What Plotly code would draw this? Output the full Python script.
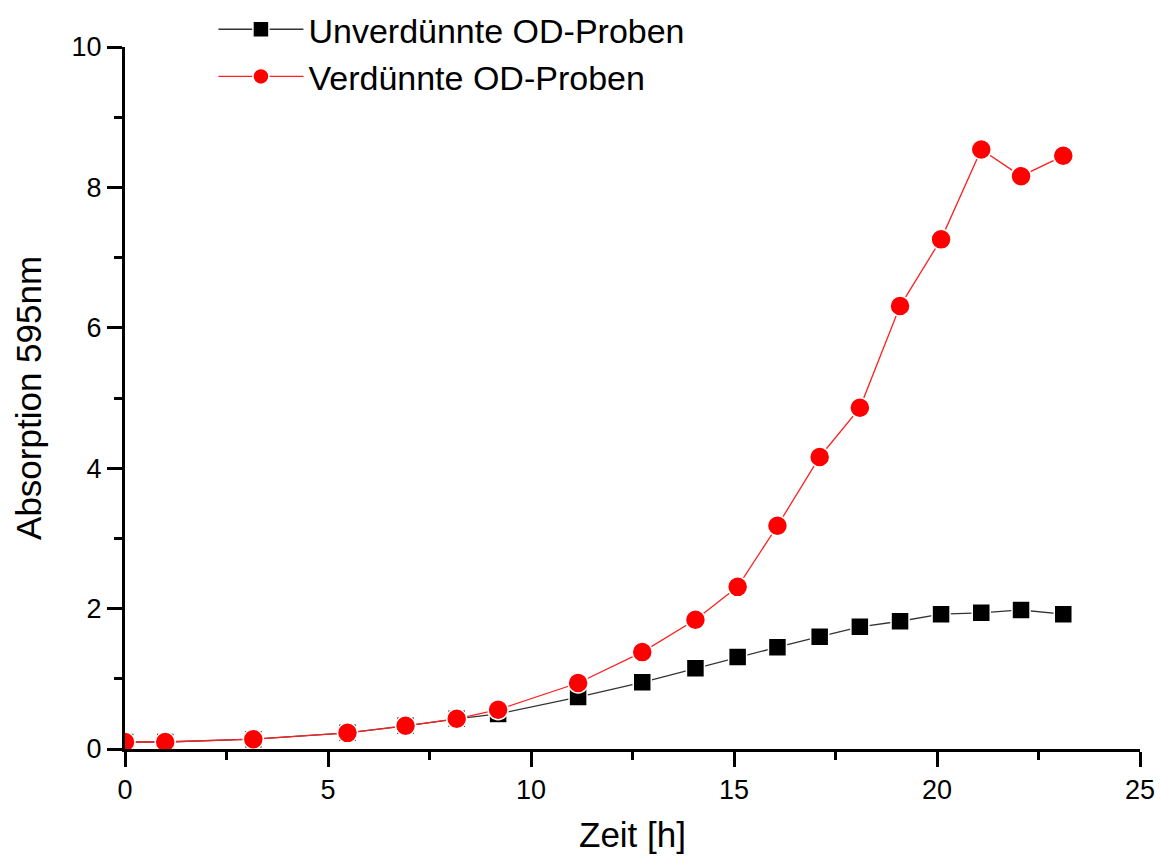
import plotly.graph_objects as go

# Sampling times (hours)
zeit_h = [0.0, 0.99, 3.16, 5.48, 6.91, 8.17, 9.19, 11.16, 12.74, 14.05,
          15.09, 16.07, 17.11, 18.1, 19.09, 20.1, 21.09, 22.07, 23.11]

# Absorbance at 595 nm, undiluted samples
od_unverduennt = [0.10, 0.10, 0.14, 0.23, 0.33, 0.43, 0.50, 0.74, 0.95, 1.15,
                  1.31, 1.45, 1.60, 1.74, 1.82, 1.92, 1.94, 1.98, 1.92]

# Absorbance at 595 nm, diluted samples (back-calculated)
od_verduennt = [0.10, 0.10, 0.14, 0.23, 0.33, 0.43, 0.56, 0.94, 1.38, 1.84,
                2.31, 3.18, 4.16, 4.86, 6.31, 7.26, 8.54, 8.16, 8.45]

x_ticks = [0, 5, 10, 15, 20, 25]
y_ticks = [0, 2, 4, 6, 8, 10]

FONT = "Liberation Sans, Arial, sans-serif"

fig = go.Figure()

fig.add_trace(go.Scatter(
    x=zeit_h, y=od_unverduennt, mode="lines+markers",
    name="Unverdünnte OD-Proben",
    line=dict(color="#333333", width=1.3),
    marker=dict(symbol="square", size=18, color="black",
                line=dict(color="white", width=1.5)),
))

fig.add_trace(go.Scatter(
    x=zeit_h, y=od_verduennt, mode="lines+markers",
    name="Verdünnte OD-Proben",
    line=dict(color="#ff2020", width=1.3),
    marker=dict(symbol="circle", size=20, color="#ff0000",
                line=dict(color="white", width=1.5)),
))

axis_common = dict(
    showline=True, linecolor="black", linewidth=3,
    ticks="outside", ticklen=15, tickwidth=2.5, tickcolor="black",
    showgrid=False, zeroline=False, mirror=False, automargin=False,
    tickfont=dict(family=FONT, size=27, color="black"),
)

fig.update_xaxes(
    range=[0, 25], tickvals=x_ticks,
    minor=dict(ticks="outside", ticklen=8, tickwidth=2.5, tickcolor="black", dtick=2.5, showgrid=False),
    **axis_common,
)
fig.update_yaxes(
    range=[0, 10], tickvals=y_ticks,
    minor=dict(ticks="outside", ticklen=8, tickwidth=2.5, tickcolor="black", dtick=1, showgrid=False),
    **axis_common,
)

# Axis titles placed as annotations relative to the plot area
title_font = dict(family=FONT, size=35, color="black")
fig.add_annotation(text="Zeit [h]", xref="paper", yref="paper",
                   x=0.5, y=-0.1225, xanchor="center", yanchor="middle",
                   showarrow=False, font=title_font)
fig.add_annotation(text="Absorption 595nm", xref="paper", yref="paper",
                   x=-0.0956, y=0.5, xanchor="center", yanchor="middle",
                   textangle=-90, showarrow=False, font=title_font)

fig.update_layout(
    width=1160, height=859,
    margin=dict(l=125, r=20, t=47, b=110, autoexpand=False),
    plot_bgcolor="white", paper_bgcolor="white",
    showlegend=True,
    legend=dict(
        xref="container", yref="paper",
        x=0.184, y=1.066, xanchor="left", yanchor="top",
        bgcolor="rgba(0,0,0,0)",
        font=dict(family=FONT, size=34, color="black"),
        itemwidth=85, tracegroupgap=0,
    ),
)

fig.write_html("out.html")
